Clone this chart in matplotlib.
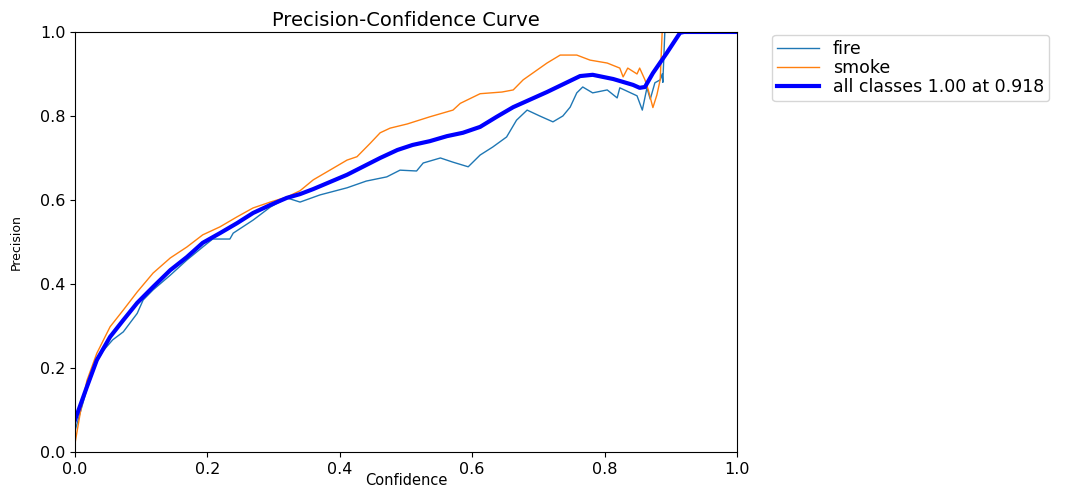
import matplotlib
matplotlib.use("Agg")
import matplotlib.pyplot as plt

# --- data (confidence, precision) ---
FIRE_X = [0.0, 0.018, 0.033, 0.042, 0.057, 0.073, 0.094, 0.103, 0.118, 0.144,
          0.169, 0.193, 0.208, 0.234, 0.239, 0.269, 0.295, 0.32, 0.34, 0.37,
          0.411, 0.44, 0.471, 0.491, 0.516, 0.526, 0.552, 0.571, 0.594, 0.612,
          0.631, 0.652, 0.667, 0.683, 0.702, 0.722, 0.737, 0.748, 0.758, 0.767,
          0.782, 0.804, 0.819, 0.823, 0.849, 0.857, 0.864, 0.869, 0.876, 0.884,
          0.887, 0.888, 0.891, 1.0]
FIRE_Y = [0.05, 0.15, 0.215, 0.24, 0.267, 0.286, 0.33, 0.362, 0.386, 0.421,
          0.457, 0.488, 0.507, 0.507, 0.521, 0.552, 0.583, 0.605, 0.595, 0.612,
          0.629, 0.645, 0.655, 0.671, 0.669, 0.688, 0.70, 0.69, 0.679, 0.707,
          0.726, 0.75, 0.79, 0.814, 0.80, 0.786, 0.80, 0.821, 0.855, 0.869,
          0.855, 0.862, 0.843, 0.867, 0.848, 0.814, 0.867, 0.84, 0.879, 0.886,
          0.90, 0.88, 1.0, 1.0]

SMOKE_X = [0.0, 0.008, 0.018, 0.033, 0.053, 0.073, 0.094, 0.118, 0.144, 0.169,
           0.193, 0.219, 0.245, 0.269, 0.295, 0.32, 0.34, 0.36, 0.385, 0.411,
           0.426, 0.446, 0.461, 0.476, 0.502, 0.536, 0.571, 0.582, 0.612, 0.645,
           0.662, 0.677, 0.713, 0.733, 0.758, 0.778, 0.804, 0.823, 0.828, 0.835,
           0.849, 0.853, 0.861, 0.866, 0.873, 0.879, 0.884, 0.887, 1.0]
SMOKE_Y = [0.02, 0.093, 0.17, 0.235, 0.298, 0.338, 0.381, 0.426, 0.462, 0.488,
           0.517, 0.536, 0.56, 0.581, 0.595, 0.607, 0.622, 0.648, 0.671, 0.695,
           0.703, 0.735, 0.76, 0.771, 0.781, 0.798, 0.814, 0.83, 0.853, 0.857,
           0.862, 0.886, 0.926, 0.945, 0.945, 0.933, 0.926, 0.914, 0.893, 0.914,
           0.90, 0.914, 0.886, 0.862, 0.82, 0.85, 0.886, 1.0, 1.0]

ALL_X = [0.0, 0.018, 0.033, 0.053, 0.073, 0.094, 0.118, 0.144, 0.169, 0.193,
         0.219, 0.245, 0.269, 0.295, 0.32, 0.34, 0.36, 0.411, 0.461, 0.487,
         0.51, 0.536, 0.562, 0.586, 0.612, 0.637, 0.662, 0.713, 0.763, 0.782,
         0.813, 0.843, 0.853, 0.861, 0.873, 0.894, 0.914, 0.92, 1.0]
ALL_Y = [0.076, 0.155, 0.219, 0.274, 0.314, 0.355, 0.393, 0.433, 0.464, 0.498,
         0.521, 0.545, 0.569, 0.588, 0.605, 0.614, 0.626, 0.66, 0.70, 0.719,
         0.731, 0.74, 0.752, 0.76, 0.774, 0.798, 0.821, 0.857, 0.895, 0.898,
         0.888, 0.874, 0.867, 0.869, 0.902, 0.95, 0.998, 1.0, 1.0]

TICKS = [0.0, 0.2, 0.4, 0.6, 0.8, 1.0]

fig = plt.figure(figsize=(10.65, 4.88), dpi=100)
ax = fig.add_axes([0.0704, 0.0738, 0.6216, 0.8607])

ax.plot(FIRE_X, FIRE_Y, color='#1f77b4', linewidth=1, label='fire')
ax.plot(SMOKE_X, SMOKE_Y, color='#ff7f0e', linewidth=1, label='smoke')
ax.plot(ALL_X, ALL_Y, color='blue', linewidth=3, label='all classes 1.00 at 0.918')

ax.set_xlim(0, 1)
ax.set_ylim(0, 1)
ax.set_xticks(TICKS)
ax.set_yticks(TICKS)
ax.tick_params(labelsize=11.5)
ax.set_xlabel('Confidence', fontsize=10.5, labelpad=-3)
ax.set_ylabel('Precision', fontsize=9, labelpad=12)
ax.set_title('Precision-Confidence Curve', fontsize=14, pad=4)

ax.legend(loc='upper left', bbox_to_anchor=(1.053, 0.993), borderaxespad=0,
          fontsize=12.5, handlelength=2.4, labelspacing=0.05, borderpad=0.3)

fig.savefig('out.png', dpi=100)
